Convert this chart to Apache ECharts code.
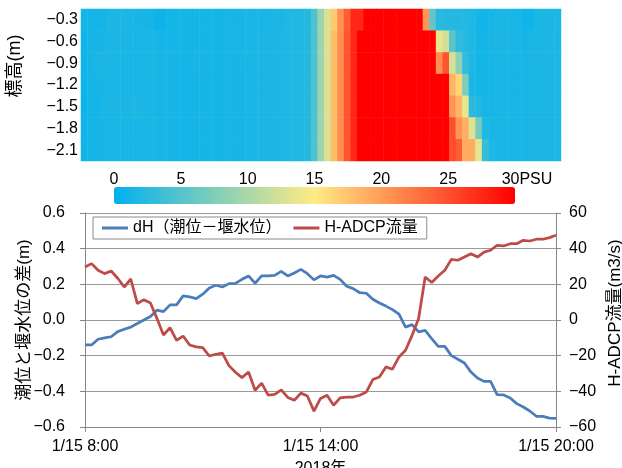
<!DOCTYPE html>
<html><head><meta charset="utf-8">
<script src="https://cdn.jsdelivr.net/npm/echarts@6/dist/echarts.min.js"></script>
<style>html,body{margin:0;padding:0;background:#fff}#c{width:622px;height:468px}</style>
</head><body><div id="c"></div>
<script>
const FONT = "'Liberation Sans','Noto Sans CJK JP',sans-serif";

// time categories (10-minute steps, 1/15 8:00 - 20:00)
const timeLabels = [];
for (let i = 0; i <= 72; i++) {
  const m = 8 * 60 + i * 10;
  timeLabels.push('1/15 ' + Math.floor(m / 60) + ':' + String(m % 60).padStart(2, '0'));
}
const depthLabels = ['−0.3', '−0.6', '−0.9', '−1.2', '−1.5', '−1.8', '−2.1'];
const colorbarTicks = [0, 5, 10, 15, 20, 25, 30];

// salinity (PSU) per depth row, 73 columns each
const sal_03 = [1.2,1.2,1.3,1.3,1.6,1.7,1.7,1.6,1.4,1.4,1.3,0.8,0.8,1.2,1.3,1.4,1.3,1.3,1.4,1.4,1.3,1.3,1.4,1.4,1.4,1.5,1.5,1.4,1.5,1.6,1.6,1.8,1.8,2.0,2.2,
  4.7,9.3,12.8,17.2,20.8,24.0,27.5,27.5,
  30,30,30,30,30,30,30,30,30,
  20.5,5.5,
  2.4,2.2,2.2,2.0,2.0,1.8,1.2,1.0,1.4,1.6,1.5,1.5,1.4,0.9,0.9,1.5,1.6,1.6,1.7];
const sal_06 = [0.9,1.3,1.4,1.4,1.5,1.6,1.6,1.5,1.4,1.5,1.6,1.4,1.3,1.3,1.4,1.4,1.3,1.3,1.4,1.4,1.3,1.3,1.4,1.5,1.4,1.5,1.5,1.5,1.6,1.6,1.7,1.8,1.9,2.0,2.2,
  4.7,9.3,12.8,18.0,21.0,24.6,27.5,30,
  30,30,30,30,30,30,30,30,30,30,30,
  13.6,12.4,5.4,2.8,
  2.2,1.8,1.2,1.3,1.5,1.6,1.6,1.5,1.5,1.3,1.4,1.6,1.6,1.7,1.7];
const sal_09 = [1.1,1.3,1.5,1.7,1.6,1.5,1.5,1.4,1.4,1.5,1.6,1.5,1.4,1.4,1.3,1.3,1.3,1.4,1.4,1.4,1.3,1.3,1.4,1.4,1.5,1.5,1.5,1.6,1.6,1.6,1.7,1.8,1.9,2.0,2.2,
  4.7,9.3,12.8,18.0,21.0,24.6,27.5,30,
  30,30,30,30,30,30,30,30,30,30,30,
  21.0,24.5,12.4,8.5,3.0,
  1.8,1.3,1.2,1.4,1.5,1.5,1.5,1.4,1.4,1.5,1.6,1.6,1.6,1.7];
const sal_12 = [0.9,1.2,1.4,1.4,1.5,1.5,1.5,1.4,1.4,1.5,1.5,1.5,1.4,1.4,1.3,1.3,1.3,1.3,1.4,1.4,1.3,1.3,1.4,1.4,1.4,1.5,1.5,1.5,1.6,1.6,1.7,1.8,1.9,2.0,2.2,
  4.7,9.3,12.8,18.0,21.0,24.6,27.5,30,
  30,30,30,30,30,30,30,30,30,30,30,30,30,
  18.5,16.5,7.3,
  1.5,1.3,1.3,1.4,1.5,1.5,1.5,1.4,1.4,1.5,1.6,1.6,1.6,1.7];
const sal_15 = [0.8,1.2,1.3,1.5,1.6,1.6,1.5,1.6,1.7,1.6,1.5,1.4,1.4,1.4,1.3,1.3,1.3,1.3,1.4,1.4,1.3,1.3,1.4,1.4,1.4,1.5,1.5,1.5,1.6,1.6,1.7,1.8,1.9,2.0,2.2,
  4.7,9.3,12.8,18.0,21.0,24.6,27.5,30,
  30,30,30,30,30,30,30,30,30,30,30,30,30,
  20.5,18.5,13.6,2.5,2.0,
  1.4,1.4,1.5,1.5,1.5,1.4,1.4,1.5,1.6,1.6,1.6,1.7];
const sal_18 = [1.0,1.2,1.3,1.4,1.5,1.5,1.5,1.4,1.4,1.5,1.5,1.5,1.4,1.4,1.3,1.3,1.3,1.3,1.4,1.4,1.3,1.3,1.4,1.4,1.4,1.5,1.5,1.5,1.6,1.6,1.7,1.8,1.9,2.0,2.2,
  4.7,9.3,12.8,18.0,21.0,24.6,27.5,30,
  30,30,30,30,30,30,30,30,30,30,30,30,30,
  25.0,20.5,18.8,13.2,7.0,
  1.8,1.5,1.5,1.5,1.5,1.4,1.4,1.5,1.6,1.6,1.6,1.7];
const sal_21 = [1.1,1.3,1.4,1.4,1.5,1.5,1.5,1.4,1.4,1.5,1.5,1.5,1.4,1.4,1.3,1.3,1.3,1.3,1.4,1.4,1.3,1.3,1.4,1.4,1.4,1.5,1.5,1.5,1.6,1.6,1.7,1.8,1.9,2.0,2.2,
  4.7,9.3,12.8,18.0,21.0,24.6,27.5,30,
  30,30,30,30,30,30,30,30,30,30,30,30,30,
  25.0,24.0,19.0,19.0,13.4,3.3,
  1.8,1.5,1.5,1.5,1.4,1.4,1.5,1.6,1.6,1.6,1.7];

// dH (m) and H-ADCP discharge (m3/s)
const dH = [-0.14,-0.14,-0.108,-0.10,-0.094,-0.065,-0.052,-0.04,-0.02,0.0,
  0.02,0.055,0.047,0.085,0.085,0.135,0.13,0.12,0.145,0.18,
  0.195,0.185,0.204,0.205,0.228,0.247,0.206,0.247,0.247,0.25,
  0.273,0.247,0.264,0.284,0.26,0.225,0.247,0.24,0.25,0.228,
  0.189,0.176,0.153,0.15,0.116,0.095,0.078,0.058,0.033,-0.04,
  -0.026,-0.067,-0.058,-0.105,-0.148,-0.148,-0.2,-0.22,-0.241,-0.292,
  -0.325,-0.344,-0.344,-0.418,-0.42,-0.437,-0.469,-0.488,-0.51,-0.54,
  -0.54,-0.55,-0.552];
const flow = [29.7,31.6,27.9,26,27.5,23.4,18.5,23,9.2,11.4,
  9.5,0.9,-8.4,-4.3,-11.4,-9,-14,-15.1,-15.5,-20.2,
  -19.2,-18.6,-25.6,-29.3,-32.3,-29.2,-39.4,-35.4,-42.1,-41.7,
  -39.2,-43.4,-45,-41,-42.6,-51.1,-44,-42.2,-47.8,-43.7,
  -43.2,-43.2,-42.2,-40.4,-33.4,-32,-26.3,-27.6,-20.7,-17,
  -8.6,0.8,24.1,21,24.7,27.9,34,33.5,35.3,37.2,
  35.3,38.1,39.1,41.9,41.5,42.8,42.8,44.7,44.3,45.3,
  45.3,46.2,47.5];

const salinityRows = [sal_03, sal_06, sal_09, sal_12, sal_15, sal_18, sal_21];
const heatData = [];
salinityRows.forEach((row, r) => row.forEach((v, c) => heatData.push([c, r, v])));

const neg = s => s.replace('-', '−');
const AX = '#868686', GRIDC = '#9a9a9a';

const chart = echarts.init(document.getElementById('c'), null, { renderer: 'canvas' });
chart.setOption({
  animation: false,
  textStyle: { fontFamily: FONT, color: '#000' },
  grid: [
    { left: 81, top: 9, width: 480, height: 152, outerBoundsMode: 'none', containLabel: false },
    { left: 85, top: 213, width: 471, height: 214, outerBoundsMode: 'none', containLabel: false },
    { left: 114, top: 187, width: 401, height: 17, outerBoundsMode: 'none', containLabel: false }
  ],
  xAxis: [
    { gridIndex: 0, type: 'category', data: timeLabels, show: false },
    { gridIndex: 1, type: 'category', data: timeLabels, boundaryGap: false,
      axisLine: { onZero: false, lineStyle: { color: AX, width: 1 } },
      axisTick: { interval: 35, length: 5, lineStyle: { color: AX } },
      splitLine: { show: false },
      axisLabel: { interval: 35, fontSize: 16, color: '#000', margin: 12, fontFamily: FONT },
      name: '2018年', nameLocation: 'middle', nameGap: 34,
      nameTextStyle: { fontSize: 16, color: '#000', fontFamily: FONT } },
    { gridIndex: 2, type: 'value', min: colorbarTicks[0], max: colorbarTicks[colorbarTicks.length - 1], interval: 5,
      position: 'top', axisLine: { show: false }, axisTick: { show: false }, splitLine: { show: false },
      axisLabel: { fontSize: 16, color: '#000', margin: -1, fontFamily: FONT,
        formatter: v => v === 30 ? '{p|30PSU}' : String(v),
        rich: { p: { fontSize: 16, color: '#000', fontFamily: FONT, padding: [0, 0, 0, 24] } } } }
  ],
  yAxis: [
    { gridIndex: 0, type: 'category', data: depthLabels, inverse: true,
      axisLine: { show: false }, axisTick: { show: false }, splitLine: { show: false },
      axisLabel: { fontSize: 16, color: '#000', margin: 3, fontFamily: FONT } },
    { gridIndex: 1, type: 'value', min: -0.6, max: 0.6, interval: 0.2,
      axisLine: { show: true, onZero: false, lineStyle: { color: AX } },
      axisTick: { show: true, length: 5, lineStyle: { color: AX } },
      splitLine: { show: true, lineStyle: { color: GRIDC, width: 1, type: 'solid', opacity: 1 } },
      axisLabel: { fontSize: 16, color: '#000', margin: 20, fontFamily: FONT, formatter: v => neg(v.toFixed(1)) },
      name: '潮位と堰水位の差(m)', nameLocation: 'middle', nameGap: 52, nameMoveOverlap: false,
      nameTextStyle: { fontSize: 17, color: '#000', fontFamily: FONT } },
    { gridIndex: 1, type: 'value', min: -60, max: 60, interval: 20, position: 'right',
      axisLine: { show: true, onZero: false, lineStyle: { color: AX } },
      axisTick: { show: true, length: 5, lineStyle: { color: AX } },
      splitLine: { show: true, lineStyle: { color: GRIDC, width: 1, type: 'solid', opacity: 1 } },
      axisLabel: { fontSize: 16, color: '#000', margin: 13, fontFamily: FONT, formatter: v => neg(String(v)) },
      name: 'H-ADCP流量(m3/s)', nameLocation: 'middle', nameGap: 49,
      nameTextStyle: { fontSize: 17, color: '#000', fontFamily: FONT, padding: [0, 0, 0, 14] } },
    { gridIndex: 2, type: 'value', show: false }
  ],
  visualMap: {
    type: 'continuous', seriesIndex: 0, min: 0, max: 30, orient: 'horizontal',
    left: 114, top: 187, itemWidth: 17, itemHeight: 401, padding: 0,
    calculable: false, hoverLink: false, text: ['', ''],
    inRange: { color: ['#00b0f0', '#ffeb84', '#ff0000'] }
  },
  legend: {
    left: 93, top: 217, orient: 'horizontal',
    backgroundColor: '#fff', borderColor: '#8c8c8c', borderWidth: 1, borderRadius: 0,
    padding: [3, 9], itemGap: 12, itemWidth: 26, itemHeight: 3, icon: 'rect',
    textStyle: { fontSize: 16, color: '#000', fontFamily: FONT },
    data: ['dH（潮位－堰水位）', 'H-ADCP流量']
  },
  graphic: [
    { type: 'text', x: 15, y: 66, rotation: Math.PI / 2,
      style: { text: '標高(m)', font: "18px 'Liberation Sans','Noto Sans CJK JP',sans-serif", fill: '#000', textAlign: 'center', textVerticalAlign: 'middle' } }
  ],
  series: [
    { type: 'heatmap', xAxisIndex: 0, yAxisIndex: 0, data: heatData, itemStyle: { borderWidth: 0 }, emphasis: { disabled: true } },
    { name: 'dH（潮位－堰水位）', type: 'line', xAxisIndex: 1, yAxisIndex: 1, data: dH,
      showSymbol: false, symbol: 'none', lineStyle: { color: '#4a7ebb', width: 2.75 }, itemStyle: { color: '#4a7ebb' } },
    { name: 'H-ADCP流量', type: 'line', xAxisIndex: 1, yAxisIndex: 2, data: flow,
      showSymbol: false, symbol: 'none', lineStyle: { color: '#be4b48', width: 2.75 }, itemStyle: { color: '#be4b48' } }
  ]
});
</script>
</body></html>
